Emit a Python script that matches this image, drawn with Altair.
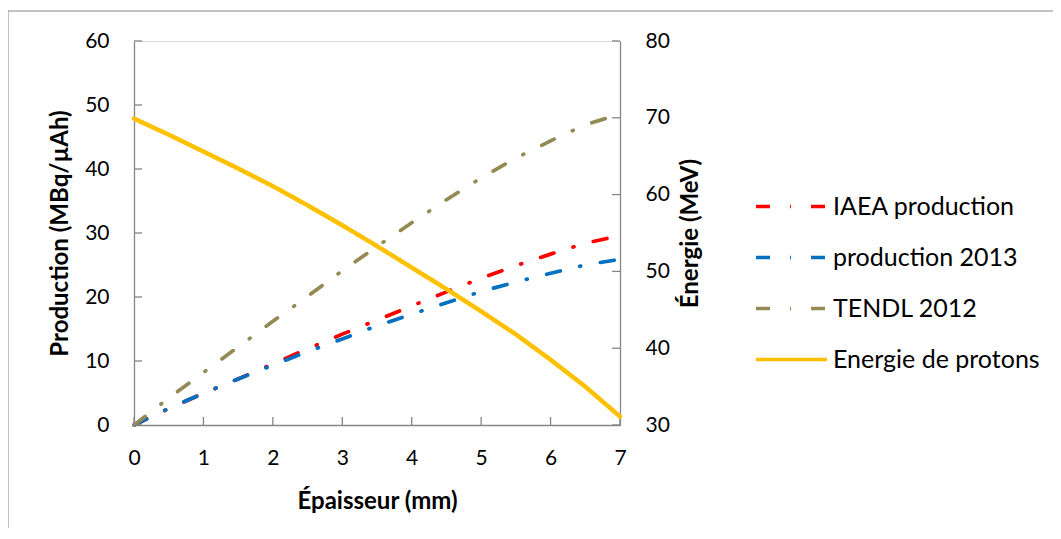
import altair as alt
import pandas as pd

# ---- data ----
thickness = [0, 0.5, 1, 1.5, 2, 2.5, 3, 3.5, 4, 4.5, 5, 5.5, 6, 6.5, 7]
iaea = [0, 2.55, 4.95, 7.2, 9.55, 11.9, 14.2, 16.4, 18.6, 20.8, 22.95, 24.9, 26.7, 28.4, 29.6]
prod2013 = [0, 2.6, 4.95, 7.2, 9.35, 11.45, 13.45, 15.5, 17.3, 19.1, 20.85, 22.35, 23.7, 25.0, 25.9]
tendl = [0, 4.2, 8.2, 12.2, 16.2, 20.1, 24.1, 27.9, 31.6, 35.2, 38.6, 41.7, 44.4, 46.9, 48.6]
energy = [69.9, 67.8, 65.6, 63.4, 61.1, 58.6, 56.0, 53.3, 50.5, 47.7, 44.8, 41.8, 38.5, 35.0, 31.1]

series_names = ["IAEA production", "production 2013", "TENDL 2012", "Energie de protons"]
series_colors = ["#FF0000", "#0070C0", "#948A54", "#FFC000"]
x_ticks = [0, 1, 2, 3, 4, 5, 6, 7]
left_ticks = [0, 10, 20, 30, 40, 50, 60]
right_ticks = [30, 40, 50, 60, 70, 80]

# ---- tables ----
rows = []
for name, vals in zip(series_names[:3], [iaea, prod2013, tendl]):
    for t, v in zip(thickness, vals):
        rows.append({"series": name, "x": t, "v": v})
prod_df = pd.DataFrame(rows)
energy_df = pd.DataFrame({"series": series_names[3], "x": thickness, "e": energy})
xt_df = pd.DataFrame({"x": x_ticks})
lt_df = pd.DataFrame({"v": left_ticks})
rt_df = pd.DataFrame({"e": right_ticks})
frame_df = pd.DataFrame({"a": [0]})

FONT = "Lato"
GRAY = "#868686"
W, H = 486, 384
DASH = [14, 20, 1, 20]

x_scale = alt.Scale(domain=[0, 7], nice=False, zero=False)
yl_scale = alt.Scale(domain=[0, 60], nice=False)
yr_scale = alt.Scale(domain=[30, 80], nice=False, zero=False)

common = dict(labelFont=FONT, titleFont=FONT, labelColor="black", titleColor="black",
              grid=False, tickSize=0, domainColor=GRAY, domainWidth=1.3, labelFlush=False,
              labelFontSize=21, titleFontSize=24, titleFontWeight="bold")

x_axis = alt.Axis(values=x_ticks, title="Épaisseur (mm)", orient="bottom", format="d",
                  labelPadding=22, titleY=76, titleBaseline="middle", **common)
yl_axis = alt.Axis(values=left_ticks, title="Production (MBq/µAh)", orient="left",
                   labelPadding=25, titleX=-74, titleBaseline="middle", **common)
yr_axis = alt.Axis(values=right_ticks, title="Énergie (MeV)", orient="right",
                   labelPadding=25, titleX=70, titleAngle=270, titleBaseline="middle", **common)

legend = alt.Legend(
    title=None, orient="none", legendX=620, legendY=128,
    symbolType="stroke", symbolSize=5041, symbolStrokeWidth=3.5,
    labelFont=FONT, labelFontSize=25, labelColor="black", labelLimit=0,
    labelOffset=4, rowPadding=-28,
)
color = alt.Color("series:N", scale=alt.Scale(domain=series_names, range=series_colors), legend=legend)
dash = alt.StrokeDash("series:N", scale=alt.Scale(domain=series_names, range=[DASH, DASH, DASH, [1, 0]]), legend=legend)

prod = alt.Chart(prod_df).mark_line(strokeWidth=3.7, strokeCap="round").encode(
    x=alt.X("x:Q", scale=x_scale, axis=x_axis),
    y=alt.Y("v:Q", scale=yl_scale, axis=yl_axis),
    color=color, strokeDash=dash, order="x:Q",
)
left_tk = alt.Chart(lt_df).mark_rule(color=GRAY, strokeWidth=1.3).encode(
    y=alt.Y("v:Q", scale=yl_scale, axis=yl_axis), x=alt.value(0), x2=alt.value(8))
x_tk = alt.Chart(xt_df).mark_rule(color=GRAY, strokeWidth=1.3).encode(
    x=alt.X("x:Q", scale=x_scale, axis=x_axis), y=alt.value(H - 8), y2=alt.value(H))

en = alt.Chart(energy_df).mark_line(strokeWidth=4.5, strokeCap="round").encode(
    x=alt.X("x:Q", scale=x_scale, axis=x_axis),
    y=alt.Y("e:Q", scale=yr_scale, axis=yr_axis),
    color=color, strokeDash=dash, order="x:Q",
)
right_tk = alt.Chart(rt_df).mark_rule(color=GRAY, strokeWidth=1.3).encode(
    y=alt.Y("e:Q", scale=yr_scale, axis=yr_axis), x=alt.value(W - 8), x2=alt.value(W))

frame = alt.Chart(frame_df).mark_rect(fillOpacity=0, stroke=GRAY, strokeWidth=1).encode(
    x=alt.value(-126), x2=alt.value(960), y=alt.value(-30), y2=alt.value(560))

left_layer = alt.layer(prod, left_tk, x_tk)
right_layer = alt.layer(en, right_tk)

chart = alt.layer(left_layer, right_layer, frame).resolve_scale(y="independent").properties(
    width=W, height=H,
    autosize=alt.AutoSizeParams(type="none"),
    padding={"left": 126, "top": 33, "right": 433, "bottom": 103},
).configure_view(stroke=None).configure(background="white")

chart.save("out.html", embed_options={"renderer": "svg", "actions": False})
